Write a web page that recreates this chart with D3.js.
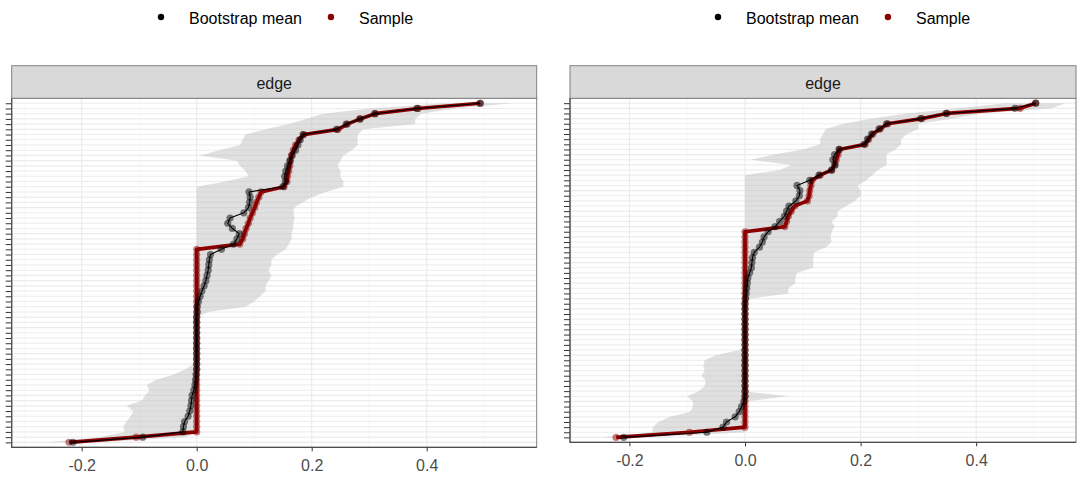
<!DOCTYPE html>
<html>
<head>
<meta charset="utf-8">
<script src="https://cdn.jsdelivr.net/npm/d3@7"></script>
<style>
  body { margin: 0; background: #fff; }
  svg { display: block; }
  text { font-family: "Liberation Sans", Arial, Helvetica, sans-serif; }
</style>
</head>
<body>
<svg id="chart" width="1078" height="477"></svg>
<script>
// Edges ranked by sample weight (1 = most negative, 66 = strongest); axis labels are hidden
const edgeRank = d3.range(1, 67);

const xTicks = [-0.2, 0, 0.2, 0.4];
const xTickLabels = ["-0.2", "0.0", "0.2", "0.4"];
const xMinor = [-0.3, -0.1, 0.1, 0.3, 0.5];
const legendLabels = ["Bootstrap mean", "Sample"];
const stripLabel = "edge";

// ---- left network ----
const sampleA = [
  -0.222, -0.105,
  0, 0, 0, 0, 0, 0, 0, 0, 0, 0,
  0, 0, 0, 0, 0, 0, 0, 0, 0, 0,
  0, 0, 0, 0, 0, 0, 0, 0, 0, 0,
  0, 0, 0, 0, 0, 0,
  0.075, 0.080, 0.083, 0.086, 0.090, 0.093, 0.097, 0.101, 0.104, 0.108,
  0.112, 0.152, 0.157, 0.158, 0.160, 0.162, 0.163, 0.165, 0.168, 0.172,
  0.178, 0.186, 0.246, 0.262, 0.284, 0.310, 0.385, 0.493
];
const meanA = [
  -0.215, -0.094, -0.024, -0.023, -0.021, -0.015, -0.012, -0.010, -0.009, -0.008,
  -0.005, -0.003, -0.002, -0.001, 0.000, 0.000, 0.000, 0.000, 0.000, 0.000,
  0.000, 0.000, 0.000, 0.000, 0.000, 0.001, 0.001, 0.003, 0.006, 0.009,
  0.013, 0.016, 0.018, 0.020, 0.021, 0.022, 0.024, 0.043, 0.064, 0.070,
  0.074, 0.062, 0.054, 0.058, 0.082, 0.090, 0.092, 0.093, 0.091, 0.150,
  0.154, 0.153, 0.155, 0.158, 0.162, 0.166, 0.172, 0.176, 0.180, 0.185,
  0.243, 0.260, 0.284, 0.310, 0.383, 0.493
];
const lowerA = [
  -0.260, -0.170, -0.125, -0.128, -0.122, -0.115, -0.110, -0.122, -0.095, -0.090,
  -0.082, -0.087, -0.070, -0.040, -0.020, -0.005, 0, 0, 0, 0,
  0, 0, 0, 0, 0, 0, 0, 0, 0, 0,
  0, 0, 0, 0, 0, 0, 0, 0, 0, 0,
  0, 0, 0, 0, 0, 0, 0, 0, 0, 0,
  0.050, 0.090, 0.085, 0.075, 0.070, 0.005, 0.040, 0.075, 0.080, 0.085,
  0.120, 0.160, 0.190, 0.220, 0.300, 0.430
];
const upperA = [
  -0.170, -0.020, 0, 0, 0, 0, 0, 0, 0, 0,
  0, 0, 0, 0, 0, 0, 0, 0, 0, 0,
  0, 0, 0, 0, 0, 0.020, 0.085, 0.100, 0.110, 0.120,
  0.120, 0.125, 0.130, 0.125, 0.130, 0.130, 0.140, 0.155, 0.160, 0.165,
  0.165, 0.168, 0.168, 0.170, 0.168, 0.170, 0.185, 0.200, 0.225, 0.255,
  0.255, 0.250, 0.250, 0.245, 0.250, 0.255, 0.270, 0.280, 0.280, 0.280,
  0.290, 0.380, 0.380, 0.390, 0.450, 0.550
];

// ---- right network ----
const sampleB = [
  -0.223, -0.096,
  0, 0, 0, 0, 0, 0, 0, 0, 0, 0,
  0, 0, 0, 0, 0, 0, 0, 0, 0, 0,
  0, 0, 0, 0, 0, 0, 0, 0, 0, 0,
  0, 0, 0, 0, 0, 0, 0, 0, 0,
  0.069, 0.072, 0.075, 0.080, 0.086, 0.108, 0.111, 0.112, 0.114, 0.116,
  0.130, 0.150, 0.155, 0.158, 0.161, 0.163, 0.208, 0.214, 0.221, 0.234,
  0.247, 0.306, 0.349, 0.476, 0.503
];
const meanB = [
  -0.210, -0.066, -0.038, -0.032, -0.017, -0.010, -0.006, -0.002, 0.000, 0.000,
  0, 0, 0, 0, 0, 0, 0, 0, 0, 0,
  0, 0, 0, 0, 0, 0, 0.000, 0.001, 0.002, 0.003,
  0.004, 0.005, 0.008, 0.011, 0.012, 0.013, 0.016, 0.025, 0.030, 0.033,
  0.040, 0.052, 0.060, 0.068, 0.072, 0.076, 0.088, 0.094, 0.095, 0.090,
  0.112, 0.128, 0.150, 0.156, 0.152, 0.155, 0.163, 0.206, 0.212, 0.219,
  0.232, 0.245, 0.304, 0.348, 0.467, 0.503
];
const lowerB = [
  -0.250, -0.160, -0.160, -0.150, -0.130, -0.095, -0.090, -0.090, -0.100, -0.080,
  -0.070, -0.068, -0.075, -0.070, -0.072, -0.070, -0.050, -0.010, 0, 0,
  0, 0, 0, 0, 0, 0, 0, 0, 0, 0,
  0, 0, 0, 0, 0, 0, 0, 0, 0, 0,
  0, 0, 0, 0, 0, 0, 0, 0, 0, 0,
  0, 0, 0.060, 0.080, 0.010, 0.050, 0.100, 0.130, 0.130, 0.135,
  0.140, 0.170, 0.220, 0.280, 0.370, 0.450
];
const upperB = [
  -0.170, 0, 0, 0, 0, 0, 0, 0, 0.075, 0,
  0, 0, 0, 0, 0, 0, 0, 0, 0, 0,
  0, 0, 0, 0, 0, 0, 0, 0.010, 0.075, 0.075,
  0.087, 0.087, 0.090, 0.118, 0.118, 0.118, 0.120, 0.140, 0.150, 0.148,
  0.150, 0.155, 0.150, 0.160, 0.160, 0.175, 0.190, 0.200, 0.200, 0.195,
  0.210, 0.220, 0.230, 0.245, 0.245, 0.245, 0.260, 0.270, 0.270, 0.280,
  0.300, 0.300, 0.360, 0.410, 0.530, 0.555
];

// Layout of the two side-by-side plots
const panels = [
  { sample: sampleA, mean: meanA, lower: lowerA, upper: upperA,
    domain: [-0.3217, 0.5913], left: 11.7, right: 536.7, stripTop: 65.7, top: 98.3, bottom: 447.3,
    legendX: 161 },
  { sample: sampleB, mean: meanB, lower: lowerB, upper: upperB,
    domain: [-0.3028, 0.5727], left: 570, right: 1076, stripTop: 65.7, top: 98.3, bottom: 442.3,
    legendX: 718 }
];

const SAMPLE_COL = "#8B0000";
const MEAN_COL = "#000000";

const svg = d3.select("#chart");

panels.forEach((p, k) => {
  const g = svg.append("g");
  const x = d3.scaleLinear().domain(p.domain).range([p.left, p.right]);
  const y = d3.scalePoint().domain(edgeRank).range([p.bottom, p.top]).padding(0.95);

  const rows = edgeRank.map((r, i) => ({
    rank: r, sample: p.sample[i], mean: p.mean[i], lo: p.lower[i], hi: p.upper[i]
  }));

  const clipId = "clip" + k;
  svg.append("clipPath").attr("id", clipId)
    .append("rect").attr("x", p.left).attr("y", p.top)
    .attr("width", p.right - p.left).attr("height", p.bottom - p.top);

  // panel background
  g.append("rect").attr("x", p.left).attr("y", p.top)
    .attr("width", p.right - p.left).attr("height", p.bottom - p.top)
    .attr("fill", "#ffffff");

  const plot = g.append("g").attr("clip-path", `url(#${clipId})`);

  // grid
  plot.selectAll("line.minor").data(xMinor).join("line")
    .attr("x1", d => x(d)).attr("x2", d => x(d))
    .attr("y1", p.top).attr("y2", p.bottom)
    .attr("stroke", "#f4f4f4").attr("stroke-width", 0.6);
  plot.selectAll("line.hgrid").data(edgeRank).join("line")
    .attr("x1", p.left).attr("x2", p.right)
    .attr("y1", d => y(d)).attr("y2", d => y(d))
    .attr("stroke", "#ececec").attr("stroke-width", 1.1);
  plot.selectAll("line.major").data(xTicks).join("line")
    .attr("x1", d => x(d)).attr("x2", d => x(d))
    .attr("y1", p.top).attr("y2", p.bottom)
    .attr("stroke", "#ebebeb").attr("stroke-width", 1.1);

  // bootstrap interval band
  const band = d3.area()
    .y(d => y(d.rank))
    .x0(d => x(d.lo))
    .x1(d => x(d.hi));
  plot.append("path").datum(rows)
    .attr("d", band)
    .attr("fill", "#bdbdbd").attr("fill-opacity", 0.47);

  const lineOf = key => d3.line().x(d => x(d[key])).y(d => y(d.rank));

  // sample estimates
  plot.append("path").datum(rows)
    .attr("d", lineOf("sample"))
    .attr("fill", "none").attr("stroke", SAMPLE_COL)
    .attr("stroke-width", 3.7).attr("stroke-linejoin", "round");
  plot.append("g").selectAll("circle").data(rows).join("circle")
    .attr("cx", d => x(d.sample)).attr("cy", d => y(d.rank)).attr("r", 3.6)
    .attr("fill", SAMPLE_COL).attr("fill-opacity", 0.5);

  // bootstrap means
  plot.append("path").datum(rows)
    .attr("d", lineOf("mean"))
    .attr("fill", "none").attr("stroke", MEAN_COL)
    .attr("stroke-width", 1.1).attr("stroke-linejoin", "round");
  plot.append("g").selectAll("circle").data(rows).join("circle")
    .attr("cx", d => x(d.mean)).attr("cy", d => y(d.rank)).attr("r", 3.6)
    .attr("fill", MEAN_COL).attr("fill-opacity", 0.5);

  // panel border
  g.append("rect").attr("x", p.left).attr("y", p.top)
    .attr("width", p.right - p.left).attr("height", p.bottom - p.top)
    .attr("fill", "none").attr("stroke", "#808080").attr("stroke-width", 1);

  // facet strip
  g.append("rect").attr("x", p.left).attr("y", p.stripTop)
    .attr("width", p.right - p.left).attr("height", p.top - p.stripTop)
    .attr("fill", "#d9d9d9").attr("stroke", "#808080").attr("stroke-width", 1);
  g.append("text")
    .attr("x", (p.left + p.right) / 2).attr("y", p.top - 9.8)
    .attr("text-anchor", "middle").attr("font-size", 16).attr("fill", "#1a1a1a")
    .text(stripLabel);

  // y axis: one tick per edge, no labels
  const yAxis = g.append("g").attr("transform", `translate(${p.left},0)`)
    .call(d3.axisLeft(y).tickSize(6).tickFormat(""));
  yAxis.select(".domain").remove();
  yAxis.selectAll(".tick line").attr("stroke", "#333").attr("stroke-width", 1);

  // x axis
  const xAxis = g.append("g").attr("transform", `translate(0,${p.bottom})`)
    .call(d3.axisBottom(x).tickValues(xTicks).tickSize(4)
      .tickFormat((d, i) => xTickLabels[i]));
  xAxis.select(".domain").remove();
  xAxis.selectAll(".tick line").attr("stroke", "#333").attr("stroke-width", 1);
  xAxis.selectAll(".tick text")
    .attr("font-size", 16).attr("fill", "#4d4d4d")
    .attr("y", 23.7).attr("dy", 0);

  // axis lines on left and bottom
  g.append("line").attr("x1", p.left).attr("x2", p.left)
    .attr("y1", p.top).attr("y2", p.bottom + 0.5)
    .attr("stroke", "#4d4d4d").attr("stroke-width", 1.2);
  g.append("line").attr("x1", p.left).attr("x2", p.right)
    .attr("y1", p.bottom).attr("y2", p.bottom)
    .attr("stroke", "#4d4d4d").attr("stroke-width", 1.2);

  // legend
  const leg = svg.append("g");
  let cx = p.legendX;
  [MEAN_COL, SAMPLE_COL].forEach((col, j) => {
    leg.append("circle").attr("cx", cx).attr("cy", 17).attr("r", 3.2).attr("fill", col);
    const t = leg.append("text").attr("x", cx + 28).attr("y", 24)
      .attr("font-size", 16).attr("fill", "#000").text(legendLabels[j]);
    cx = cx + 28 + t.node().getComputedTextLength() + 29;
  });
});
</script>
</body>
</html>
